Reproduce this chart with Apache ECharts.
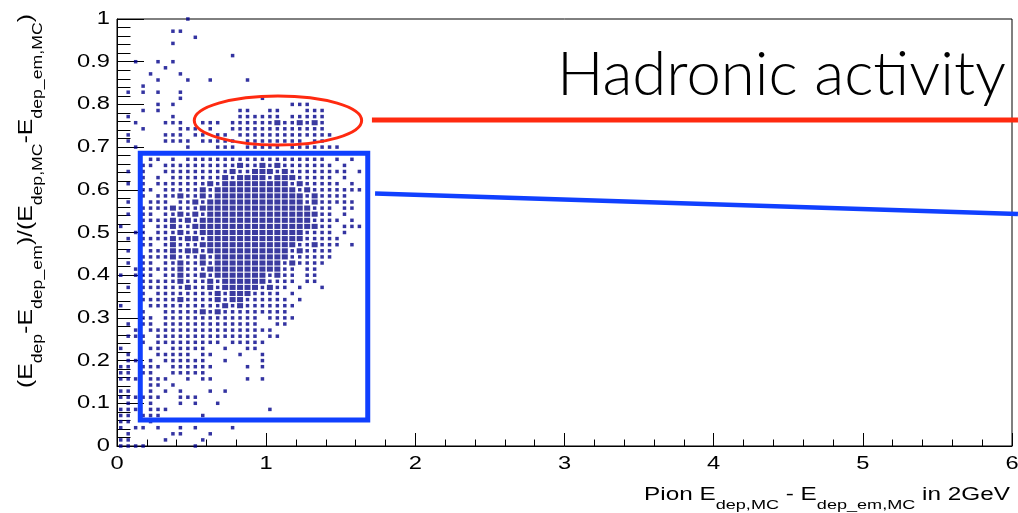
<!DOCTYPE html>
<html>
<head>
<meta charset="utf-8">
<script src="https://cdn.jsdelivr.net/npm/echarts/dist/echarts.min.js"></script>
<style>
  html, body { margin: 0; padding: 0; background: #fff; }
  #chart { width: 1018px; height: 513px; }
</style>
</head>
<body>
<div id="chart"></div>
<script>
// Binned entries: each row is one y bin (top row = y 1.0, bottom row = y 0),
// each character one x bin starting at x = 0.025 in steps of 0.05.
// 'o' = a single entry, '#' = a bin holding many overlapping entries.
const xBinStart = 0.025;
const xBinWidth = 0.05;
const yBinWidth = 1 / 70;

const rowsTop = [
  '.........o|................|........',
  '..........|................|........',
  '.......oo.|................|........',
  '..........|o...............|........',
  '.......o..|................|........',
  '..........|................|........',
  '..........|.....o..........|........',
  '..o..o.o..|................|........',
  '......o...|................|........',
  '....o...o.|................|........',
  '.....o...o|..o....o........|........',
  '...o......|................|........',
  '.o.o.o..o.|................|........',
  '........o.|.........o......|........',
  '.....o.o..|.............ooo|........',
  '...o.o....|......oo..oo...o|oo......',
  '.o.....o..|......oooooo.ooo|oo......',
  '..o...ooo.|.ooo.oooooo#oo#o|#o......',
  '...o....oo|o.o..ooooooooooo|oo......',
  '.o....ooo.|oo.oo.oooooooooo|ooo.....',
  '.o....oooo|.ooooo.oooooooo.|oo......',
  '..o......o|...ooo.ooooo.ooo|oooo....',
  '...o.o.o.o|o.oooo.o.ooo.oo.|o.o.....'
];

const rowsCore = [
  '....oo.o.o|oooooooooooooooo|oo.o.o..',
  '...oo.oooo|oooooo#oo#o#oooo|ooo.o...',
  '.o.o..oooo|ooooo#oo###o#ooo|ooooo.o.',
  '...o.o.ooo|oooo#o####o###oo|ooo.o...',
  '.o.o.ooooo|oo#o#########o#o|oooo.o..',
  '...oo.oooo|o#o###########o#|ooooooo.',
  '...o.ooo#o|o#o############o|#oooo...',
  '.o..ooo.oo|#o#############o|#ooooo..',
  '...oooo#oo|o###############|ooo.oo..',
  '.o.oo.oo#o|#o##############|#oo.o...',
  '...oooo#o#|o###############|oooo.o..',
  'o..o.oo#oo|################|#oo.ooo.',
  '..oo.ooo#o|o##############o|ooo.o...',
  '.o.oooo#o#|#o#############o|oooo....',
  '...oo.o#oo|o#############oo|#ooo.o..',
  '.o..ooo#o#|#o###########o#o|ooo.....',
  '...oooo#oo|o#o##########ooo|ooo.....',
  '.o.oo.oo#o|o#o#########o#oo|oo......',
  '..oooooo#o|oo##########oo.o|o.......',
  'o.ooo.oo#o|o#o#######o#oo.o|o.......',
  '...ooooo#o|oo#o######oooo.o|o.......',
  '.o.oooooo#|oo#o#####o#oo.o.|.o......',
  '...o.ooooo|ooo#o###oooo.o..|........',
  '...ooooo#o|ooo#o##oooooo.o.|........',
  'o...oooooo|oooo#o#ooooooo..|........'
];

const rowsLow = [
  '...o..oooo|o#o#ooooooooo...|........',
  '...oo.oooo|ooooooooo.oooo..|........',
  '.o.oo.oooo|ooooooooo..oo...|........',
  '..o.oooooo|ooooooooooo.....|........',
  '.ooo.ooooo|ooooooooo.oo....|........',
  '...o.ooooo|oooo.ooooo......|........',
  'o...oo.ooo|oo..o..oo.......|........',
  '.o...ooooo|.oo...o..o......|........',
  '.oo.o.oooo|oo..o....o......|........',
  'oo.ooo.ooo|ooo....o.o......|........',
  'oo.oo..ooo|oo..............|........',
  'ooo.ooo..o|.oo....o.o......|........',
  '....oo.o..|................|........',
  'oo..o.o.o.|..o.o...........|........',
  'oooooo..oo|o...............|........',
  '.o..o...o.|o..o............|........',
  'ooo.ooo...|..........o.....|........',
  'oo.ooo....|.o..............|........',
  'oo..o.....|................|........',
  'o.oo.o..o.|o....o..........|........',
  '.o.....oo.|..o.............|........',
  'oo....o...|.o..............|........',
  'oooo......|o...............|........'
];

// Axis ticks and their labels
const xTickValues = [0, 1, 2, 3, 4, 5, 6];
const xTickLabels = ['0', '1', '2', '3', '4', '5', '6'];
const yTickValues = [0, 0.1, 0.2, 0.3, 0.4, 0.5, 0.6, 0.7, 0.8, 0.9, 1];
const yTickLabels = ['0', '0.1', '0.2', '0.3', '0.4', '0.5', '0.6', '0.7', '0.8', '0.9', '1'];

// Hand-drawn highlight shapes, in data units
const boxCorners = [[0.156, 0.0609], [1.681, 0.6855]];
const ellipseCentre = [1.079, 0.7623];
const ellipseRadii = [0.561, 0.0574];
const redPointer = [[1.709, 0.7635], [6.04, 0.7635]];
const bluePointer = [[1.73, 0.5913], [6.04, 0.5433]];

// ---- build scatter data from the bin rows ----
const rows = rowsTop.concat(rowsCore, rowsLow).map(r => r.replace(/\|/g, ''));
const singleEntries = [];
const stackedEntries = [];
rows.forEach((row, i) => {
  const y = (rows.length - 1 - i) * yBinWidth;
  for (let k = 0; k < row.length; k++) {
    const x = xBinStart + k * xBinWidth;
    if (row[k] === 'o') singleEntries.push([x, y]);
    else if (row[k] === '#') stackedEntries.push([x, y]);
  }
});

const MARK = '#00008a';
const AXIS_FONT = 'Liberation Sans';

const chart = echarts.init(document.getElementById('chart'), null, { renderer: 'canvas', width: 1018, height: 513 });

chart.setOption({
  animation: false,
  backgroundColor: '#ffffff',
  grid: {
    left: 117, right: 6, top: 19, bottom: 67,
    show: true, borderColor: '#000', borderWidth: 1, backgroundColor: 'transparent',
    containLabel: false, outerBoundsMode: 'none'
  },
  xAxis: {
    type: 'value', min: 0, max: 6, interval: 1,
    axisLine: { show: true, onZero: false, lineStyle: { color: '#000', width: 1 } },
    axisTick: { show: true, inside: true, length: 13, lineStyle: { color: '#000', width: 1 } },
    minorTick: { show: true, splitNumber: 5, length: 6.5, lineStyle: { color: '#000', width: 1 } },
    axisLabel: { show: false },
    splitLine: { show: false }, minorSplitLine: { show: false }
  },
  yAxis: {
    type: 'value', min: 0, max: 1, interval: 0.1,
    axisLine: { show: true, onZero: false, lineStyle: { color: '#000', width: 1 } },
    axisTick: { show: true, inside: true, length: 27, lineStyle: { color: '#000', width: 1 } },
    minorTick: { show: true, splitNumber: 5, length: 13.5, lineStyle: { color: '#000', width: 1 } },
    axisLabel: { show: false },
    splitLine: { show: false }, minorSplitLine: { show: false }
  },
  series: [
    {
      type: 'scatter', data: stackedEntries, symbol: 'rect', symbolSize: [6, 5.1],
      itemStyle: { color: '#0a0a88' },
      clip: false, silent: true, z: 2
    },
    {
      type: 'scatter', data: singleEntries, symbol: 'rect', symbolSize: 3.5,
      itemStyle: { color: MARK },
      clip: false, silent: true, z: 3
    }
  ]
});

const toPx = p => chart.convertToPixel({ gridIndex: 0 }, p);
const measureCtx = document.createElement('canvas').getContext('2d');
function widthOf(parts) {
  return parts.reduce((w, [t, size, family, weight]) => {
    measureCtx.font = (weight || 'normal') + ' ' + size + 'px "' + family + '"';
    return w + measureCtx.measureText(t).width;
  }, 0);
}

const graphics = [];
const TICK_STRETCH = 1.28;
const TICK_SIZE = 18.5;

yTickValues.forEach((v, i) => {
  const p = toPx([0, v]);
  graphics.push({
    type: 'text', x: 110, y: p[1], scaleX: TICK_STRETCH, silent: true, z: 50,
    style: { text: yTickLabels[i], fontFamily: AXIS_FONT, fontSize: TICK_SIZE, fill: '#000', align: 'right', verticalAlign: 'middle' }
  });
});
xTickValues.forEach((v, i) => {
  const p = toPx([v, 0]);
  graphics.push({
    type: 'text', x: p[0], y: 464, scaleX: TICK_STRETCH, silent: true, z: 50,
    style: { text: xTickLabels[i], fontFamily: AXIS_FONT, fontSize: TICK_SIZE, fill: '#000', align: 'center', verticalAlign: 'middle' }
  });
});

// Axis titles with subscripts
const xm = 17.5, xs = 13;
const xTitleWidth = widthOf([['Pion E', xm, AXIS_FONT], ['dep,MC', xs, AXIS_FONT], [' - E', xm, AXIS_FONT], ['dep_em,MC', xs, AXIS_FONT], [' in 2GeV', xm, AXIS_FONT]]);
graphics.push({
  type: 'text', x: 1010, y: 486, scaleX: 366 / xTitleWidth, silent: true, z: 50,
  style: {
    text: '{m|Pion E}{s|dep,MC}{m| - E}{s|dep_em,MC}{m| in 2GeV}',
    align: 'right', verticalAlign: 'top',
    rich: {
      m: { fontFamily: AXIS_FONT, fontSize: xm, fill: '#000', verticalAlign: 'top' },
      s: { fontFamily: AXIS_FONT, fontSize: xs, fill: '#000', verticalAlign: 'top', padding: [13, 0, 0, 0] }
    }
  }
});

const ym = 19.5, ys = 14;
const yTitleWidth = widthOf([['(E', ym, AXIS_FONT], ['dep', ys, AXIS_FONT], ['-E', ym, AXIS_FONT], ['dep_em', ys, AXIS_FONT], [')/(E', ym, AXIS_FONT], ['dep,MC', ys, AXIS_FONT], ['-E', ym, AXIS_FONT], ['dep_em,MC', ys, AXIS_FONT], [')', ym, AXIS_FONT]]);
graphics.push({
  type: 'text', x: 17, y: 14, rotation: Math.PI / 2, scaleX: 374 / yTitleWidth, silent: true, z: 50,
  style: {
    text: '{m|(E}{s|dep}{m|-E}{s|dep_em}{m|)/(E}{s|dep,MC}{m|-E}{s|dep_em,MC}{m|)}',
    align: 'right', verticalAlign: 'top',
    rich: {
      m: { fontFamily: AXIS_FONT, fontSize: ym, fill: '#000', verticalAlign: 'top' },
      s: { fontFamily: AXIS_FONT, fontSize: ys, fill: '#000', verticalAlign: 'top', padding: [14, 0, 0, 0] }
    }
  }
});

// Highlight shapes
const RED = '#ff2a10';
const BLUE = '#1040ff';
const c = toPx(ellipseCentre);
const cx = toPx([ellipseCentre[0] + ellipseRadii[0], ellipseCentre[1]]);
const cy = toPx([ellipseCentre[0], ellipseCentre[1] + ellipseRadii[1]]);
graphics.push({
  type: 'ellipse', silent: true, z: 100,
  shape: { cx: c[0], cy: c[1], rx: cx[0] - c[0], ry: c[1] - cy[1] },
  style: { fill: 'none', stroke: RED, lineWidth: 3 }
});
const b0 = toPx(boxCorners[0]);
const b1 = toPx(boxCorners[1]);
graphics.push({
  type: 'rect', silent: true, z: 100,
  shape: { x: b0[0], y: b1[1], width: b1[0] - b0[0], height: b0[1] - b1[1] },
  style: { fill: 'none', stroke: BLUE, lineWidth: 5 }
});
[[redPointer, RED, 5], [bluePointer, BLUE, 4.5]].forEach(([seg, col, w]) => {
  const p0 = toPx(seg[0]);
  const p1 = toPx(seg[1]);
  graphics.push({
    type: 'line', silent: true, z: 100,
    shape: { x1: p0[0], y1: p0[1], x2: p1[0], y2: p1[1] },
    style: { stroke: col, lineWidth: w }
  });
});

// Headline
const headFont = 'Lato';
const headSize = 61;
const headWidth = widthOf([['Hadronic activity', headSize, headFont, 300]]);
graphics.push({
  type: 'text', x: 557, y: 75, scaleX: 449 / headWidth, silent: true, z: 100,
  style: { text: 'Hadronic activity', fontFamily: headFont, fontWeight: 300, fontSize: headSize, fill: '#000', align: 'left', verticalAlign: 'middle' }
});

chart.setOption({ graphic: { elements: graphics } });
</script>
</body>
</html>
